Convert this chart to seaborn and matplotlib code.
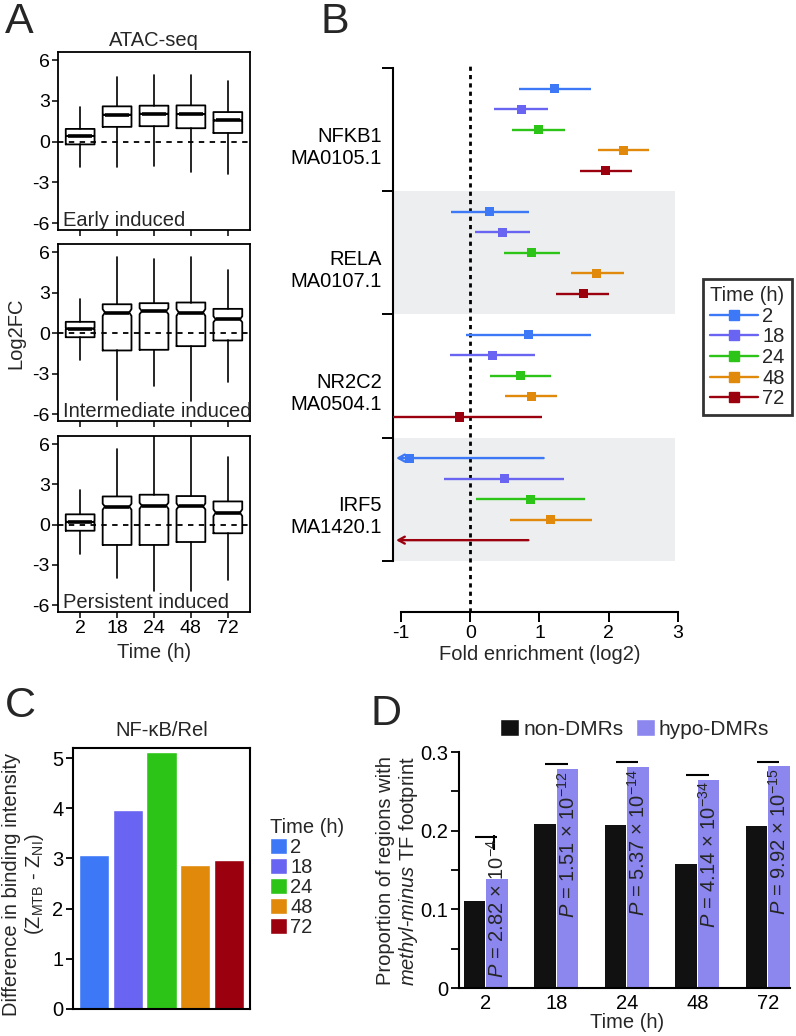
import numpy as np
import pandas as pd
import matplotlib
matplotlib.use('Agg')
import matplotlib.pyplot as plt
from matplotlib.lines import Line2D
from matplotlib.patches import Patch
import seaborn as sns

# ---------------- data ----------------
times = ['2', '18', '24', '48', '72']
time_colors = ['#3d78f7', '#6a64f2', '#2cc416', '#e0890b', '#9b000f']

# A: ATAC-seq log2FC, box statistics per time point
early_whislo = [-1.86, -1.90, -1.80, -2.20, -2.40]
early_q1 = [-0.20, 1.09, 1.14, 0.99, 0.64]
early_med = [0.42, 1.98, 2.05, 2.03, 1.56]
early_q3 = [0.94, 2.60, 2.65, 2.67, 2.18]
early_whishi = [2.55, 4.78, 4.88, 4.88, 4.43]
early_ci = [0.03, 0.03, 0.03, 0.03, 0.03]

inter_whislo = [-1.95, -4.93, -3.94, -5.00, -3.65]
inter_q1 = [-0.30, -1.28, -1.23, -0.96, -0.54]
inter_med = [0.34, 1.53, 1.63, 1.53, 1.03]
inter_q3 = [0.84, 2.14, 2.22, 2.27, 1.80]
inter_whishi = [2.56, 5.67, 5.52, 5.67, 4.66]
inter_ci = [0.05, 0.25, 0.22, 0.25, 0.22]

pers_whislo = [-2.20, -3.96, -4.93, -4.93, -4.10]
pers_q1 = [-0.45, -1.51, -1.51, -1.29, -0.64]
pers_med = [0.20, 1.34, 1.41, 1.36, 0.89]
pers_q3 = [0.77, 2.10, 2.23, 2.13, 1.73]
pers_whishi = [2.55, 5.60, 7.00, 7.00, 5.02]
pers_ci = [0.05, 0.22, 0.22, 0.22, 0.25]

# B: motif fold enrichment (log2), rows = motif, cols = time; nan = off scale
motifs = ['NFKB1\nMA0105.1', 'RELA\nMA0107.1', 'NR2C2\nMA0504.1', 'IRF5\nMA1420.1']
fe_est = [[1.22, 0.74, 0.99, 2.21, 1.95],
          [0.28, 0.47, 0.89, 1.83, 1.63],
          [0.84, 0.32, 0.73, 0.88, -0.16],
          [-0.875, 0.49, 0.87, 1.16, np.nan]]
fe_lo = [[0.71, 0.35, 0.61, 1.85, 1.58],
         [-0.28, 0.07, 0.49, 1.45, 1.24],
         [-0.06, -0.29, 0.28, 0.50, -1.20],
         [np.nan, -0.38, 0.09, 0.57, np.nan]]
fe_hi = [[1.74, 1.13, 1.37, 2.58, 2.33],
         [0.85, 0.87, 1.29, 2.22, 2.01],
         [1.74, 0.93, 1.17, 1.26, 1.03],
         [1.06, 1.36, 1.66, 1.76, 0.84]]

# C: NF-kB/Rel binding intensity difference
nfkb_diff = [3.07, 3.96, 5.12, 2.87, 2.97]

# D: proportion of regions with methyl-minus TF footprint
dmr_groups = ['non-DMRs', 'hypo-DMRs']
non_dmr = [0.110, 0.209, 0.207, 0.157, 0.206]
hypo_dmr = [0.1385, 0.278, 0.281, 0.265, 0.282]
p_mantissa = ['2.82', '1.51', '5.37', '4.14', '9.92']
p_exponent = ['-4', '-12', '-14', '-34', '-15']
sig_y = [0.192, 0.285, 0.287, 0.271, 0.287]

# ---------------- style ----------------
sns.set_style('ticks')
plt.rcParams['font.family'] = ['Liberation Sans', 'DejaVu Sans']
plt.rcParams['mathtext.fontset'] = 'custom'
plt.rcParams['mathtext.rm'] = 'Liberation Sans'
plt.rcParams['mathtext.it'] = 'Liberation Sans:italic'
plt.rcParams['axes.unicode_minus'] = False
plt.rcParams['axes.edgecolor'] = 'black'
plt.rcParams['xtick.color'] = 'black'
plt.rcParams['ytick.color'] = 'black'
FS = 14.5

W, H = 796, 1036
fig = plt.figure(figsize=(W / 100, H / 100), dpi=100)


def axes_px(left, top, right, bottom):
    return fig.add_axes([left / W, 1 - bottom / H, (right - left) / W, (bottom - top) / H])


# ---------------- A ----------------
def draw_boxes(ax, whislo, q1, med, q3, whishi, ci, label):
    w = 0.78
    stats = []
    for i in range(len(times)):
        stats.append(dict(whislo=whislo[i], q1=q1[i], med=med[i], q3=q3[i], whishi=whishi[i],
                          cilo=med[i] - ci[i], cihi=med[i] + ci[i], fliers=[]))
    pos = list(range(len(times)))
    ax.axhline(0, color='black', ls=(0, (3, 3)), lw=1.3, zorder=1)
    art = ax.bxp(stats, positions=pos, widths=w, shownotches=True, showcaps=False,
                 showfliers=False, manage_ticks=False,
                 boxprops=dict(color='black', lw=1.3),
                 whiskerprops=dict(color='black', lw=1.2),
                 medianprops=dict(color='black', lw=2.6))
    # shallower notches than the matplotlib default
    for box, mline, p in zip(art['boxes'], art['medians'], pos):
        x = np.asarray(box.get_xdata(), float)
        inner = np.isclose(np.abs(x - p), w * 0.25)
        x[inner] = p + np.sign(x[inner] - p) * w * 0.42
        box.set_xdata(x)
        mline.set_xdata([p - w * 0.42, p + w * 0.42])
    ax.set_xlim(-0.6, 4.6)
    ax.set_ylim(-6.5, 6.6)
    ax.set_yticks([6, 3, 0, -3, -6])
    ax.set_xticks(pos)
    ax.tick_params(labelsize=FS - 0.5, length=4, width=1.1, pad=2)
    for s in ax.spines.values():
        s.set_linewidth(1.3)
    ax.text(0.025, 0.0, label, transform=ax.transAxes, fontsize=FS, va='bottom', ha='left')


ax_a1 = axes_px(58, 52, 250, 230)
ax_a2 = axes_px(58, 244, 250, 421)
ax_a3 = axes_px(58, 436, 250, 612)
draw_boxes(ax_a1, early_whislo, early_q1, early_med, early_q3, early_whishi, early_ci, 'Early induced')
draw_boxes(ax_a2, inter_whislo, inter_q1, inter_med, inter_q3, inter_whishi, inter_ci, 'Intermediate induced')
draw_boxes(ax_a3, pers_whislo, pers_q1, pers_med, pers_q3, pers_whishi, pers_ci, 'Persistent induced')
ax_a1.set_xticklabels([])
ax_a2.set_xticklabels([])
ax_a3.set_xticklabels(times)
ax_a1.set_title('ATAC-seq', fontsize=FS, pad=4)
fig.text(16 / W, 1 - 333 / H, 'Log2FC', rotation=90, fontsize=FS, ha='center', va='center')
fig.text(154 / W, 1 - 652 / H, 'Time (h)', fontsize=FS, ha='center', va='center')

# ---------------- B ----------------
rows = []
for g, m in enumerate(motifs):
    for t, tm in enumerate(times):
        rows.append(dict(motif=m, time=tm, est=fe_est[g][t], lo=fe_lo[g][t],
                         hi=fe_hi[g][t], row=6 * g + 1 + t))
df_b = pd.DataFrame(rows)
color_of = dict(zip(times, time_colors))

ax_b = axes_px(393, 66, 678, 612)
ax_b.set_xlim(-1.115, 3.0)
ax_b.set_ylim(26.5, -0.1)
for g in (1, 3):
    ax_b.axhspan(6 * g, 6 * g + 6, xmin=0, xmax=(2.95 + 1.115) / 4.115,
                 color='#eceeef', lw=0, zorder=0)
ax_b.axvline(0, color='black', ls=(0, (1.5, 1.5)), lw=2, zorder=2)

ok = df_b.dropna(subset=['lo'])
ax_b.hlines(ok['row'], ok['lo'], ok['hi'], colors=[color_of[t] for t in ok['time']], lw=1.7, zorder=3)
for _, r in df_b[df_b['lo'].isna()].iterrows():
    ax_b.annotate('', xy=(-1.07, r['row']), xytext=(r['hi'], r['row']),
                  arrowprops=dict(arrowstyle='->,head_length=0.45,head_width=0.25',
                                  color=color_of[r['time']], lw=1.7, shrinkA=0, shrinkB=0),
                  zorder=3)
sns.scatterplot(data=df_b.dropna(subset=['est']), x='est', y='row', hue='time', hue_order=times,
                palette=time_colors, marker='s', s=42, linewidth=0, legend=False, zorder=4, ax=ax_b)
ax_b.set_xlabel('')
ax_b.set_ylabel('')
sns.despine(ax=ax_b)
ax_b.spines['left'].set_bounds(0, 24)
ax_b.spines['bottom'].set_bounds(-1, 3)
ax_b.spines['left'].set_linewidth(1.5)
ax_b.spines['bottom'].set_linewidth(1.5)
ax_b.set_yticks([0, 6, 12, 18, 24])
ax_b.set_yticklabels([])
ax_b.set_yticks([6 * g + 3.7 for g in range(len(motifs))], labels=motifs, minor=True)
ax_b.tick_params(axis='y', which='major', length=8, width=1.4)
ax_b.tick_params(axis='y', which='minor', length=0, pad=8, labelsize=FS)
ax_b.set_xticks([-1, 0, 1, 2, 3])
ax_b.tick_params(axis='x', length=7, width=1.4, labelsize=FS - 0.5, pad=2)
fig.text(540 / W, 1 - 655 / H, 'Fold enrichment (log2)', fontsize=FS, ha='center', va='center')

b_handles = [Line2D([], [], color=c, marker='s', markersize=6.5, lw=1.7) for c in time_colors]
leg_b = ax_b.legend(b_handles, times, title='Time (h)', loc='upper left',
                    bbox_to_anchor=(693 / W, 1 - 269 / H), bbox_transform=fig.transFigure,
                    frameon=True, fancybox=False, edgecolor='black', handlelength=2.4,
                    handletextpad=0.2, labelspacing=0.08, borderpad=0.35,
                    fontsize=FS, title_fontsize=FS)
leg_b.get_frame().set_linewidth(2)

# ---------------- C ----------------
ax_c = axes_px(73, 748, 250, 1009)
sns.barplot(x=times, y=nfkb_diff, hue=times, hue_order=times, palette=time_colors,
            saturation=1, width=0.89, edgecolor='white', linewidth=1, legend=False, ax=ax_c)
ax_c.set_xlim(-0.62, 4.62)
ax_c.set_ylim(0, 5.2)
ax_c.set_xticks([])
ax_c.set_yticks([0, 1, 2, 3, 4, 5])
ax_c.tick_params(axis='y', length=5, width=1.3, labelsize=FS, pad=2)
for s in ax_c.spines.values():
    s.set_linewidth(1.5)
ax_c.set_title('NF-\u03baB/Rel', fontsize=FS, pad=9)
fig.text(24 / W, 1 - 884 / H,
         'Difference in binding intensity\n(Z$_{\\mathrm{MTB}}$ - Z$_{\\mathrm{NI}}$)',
         rotation=90, fontsize=FS, ha='center', va='center', multialignment='center',
         linespacing=1.1)
c_handles = [Patch(facecolor=c, edgecolor='white') for c in time_colors]
ax_c.legend(c_handles, times, title='Time (h)', loc='upper left',
            bbox_to_anchor=(260 / W, 1 - 808 / H), bbox_transform=fig.transFigure,
            frameon=False, handlelength=0.85, handleheight=0.85, handletextpad=0.15,
            labelspacing=0.05, borderpad=0, fontsize=FS, title_fontsize=FS, alignment='left')

# ---------------- D ----------------
df_d = pd.DataFrame({'time': times * 2,
                     'group': [dmr_groups[0]] * len(times) + [dmr_groups[1]] * len(times),
                     'prop': non_dmr + hypo_dmr})
ax_d = axes_px(459, 752, 790, 988)
sns.barplot(data=df_d, x='time', y='prop', hue='group', hue_order=dmr_groups,
            palette=['#111111', '#8c87ef'], saturation=1, width=0.64, gap=0.04, linewidth=0,
            legend=False, ax=ax_d)
ax_d.set_xlim(-0.38, 4.315)
ax_d.set_ylim(0, 0.3)
sns.despine(ax=ax_d)
ax_d.spines['left'].set_linewidth(1.5)
ax_d.spines['bottom'].set_linewidth(1.5)
ax_d.set_yticks([0, 0.1, 0.2, 0.3], labels=['0', '0.1', '0.2', '0.3'])
ax_d.set_yticks([0.05, 0.15, 0.25], minor=True)
ax_d.tick_params(axis='y', which='both', length=6, width=1.3, labelsize=FS, pad=2)
ax_d.tick_params(axis='x', length=0, labelsize=FS, pad=4)
ax_d.set_xlabel('')
ax_d.set_ylabel('')
for t in range(len(times)):
    ax_d.hlines(sig_y[t], t - 0.16, t + 0.16, color='black', lw=1.5)
    label = '$\\it{P}$ = ' + p_mantissa[t] + ' \u00d7 10$^{' + p_exponent[t] + '}$'
    if hypo_dmr[t] < 0.2:
        ax_d.vlines(t + 0.12, sig_y[t] - 0.016, sig_y[t] + 0.003, color='black', lw=1.5)
        ax_d.text(t + 0.16, 0.013, label, rotation=90, ha='center', va='bottom', fontsize=FS)
    else:
        ax_d.text(t + 0.16, hypo_dmr[t] - 0.003, label, rotation=90, ha='center', va='top', fontsize=FS)
fig.text(398 / W, 1 - 871 / H, 'Proportion of regions with\n$\\it{methyl}$-$\\it{minus}$ TF footprint',
         rotation=90, fontsize=FS, ha='center', va='center', multialignment='center', linespacing=1.1)
fig.text(627 / W, 1 - 1023 / H, 'Time (h)', fontsize=FS, ha='center', va='center')
d_handles = [Patch(facecolor='#111111'), Patch(facecolor='#8c87ef')]
fig.legend(d_handles, dmr_groups, loc='center left', bbox_to_anchor=(490 / W, 1 - 729 / H),
           ncol=2, frameon=False, handlelength=0.9, handleheight=0.9, handletextpad=0.2,
           columnspacing=0.6, fontsize=FS + 0.5, borderpad=0)

# ---------------- panel letters ----------------
for letter, x, y in [('A', 5, 33), ('B', 320, 33), ('C', 5, 717), ('D', 370, 725)]:
    fig.text(x / W, 1 - y / H, letter, fontsize=31, ha='left', va='baseline')

fig.savefig('out.png', dpi=100)
